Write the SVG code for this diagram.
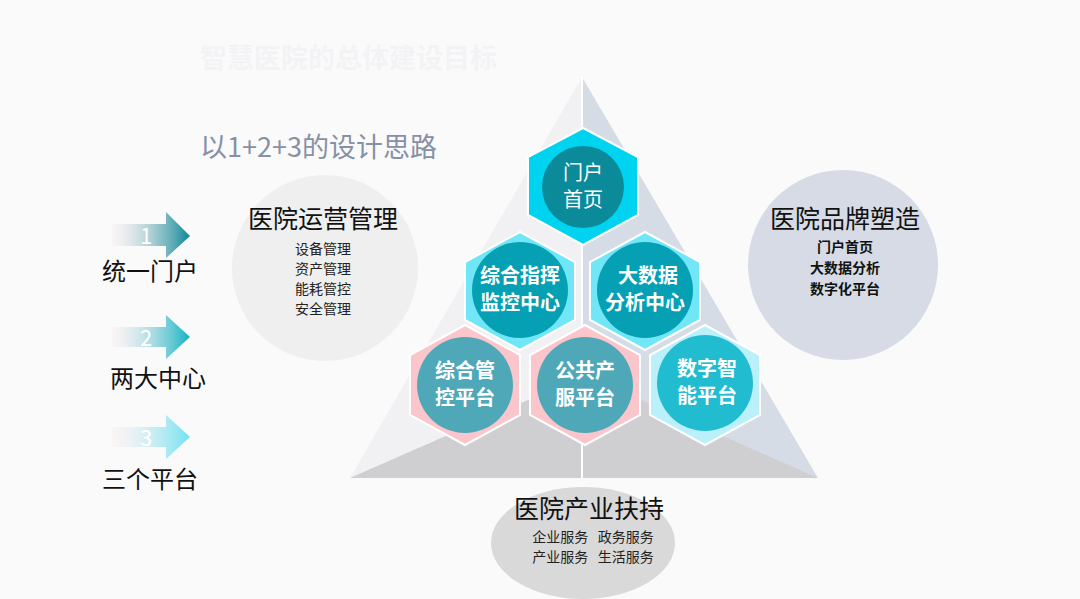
<svg xmlns="http://www.w3.org/2000/svg" width="1080" height="599" viewBox="0 0 1080 599">
<defs>
<linearGradient id="g1" x1="0" x2="1"><stop offset="0" stop-color="#fbe9ec" stop-opacity="0.3"/><stop offset="1" stop-color="#0b8796"/></linearGradient>
<linearGradient id="g2" x1="0" x2="1"><stop offset="0" stop-color="#fbe9ec" stop-opacity="0.3"/><stop offset="1" stop-color="#11b3c4"/></linearGradient>
<linearGradient id="g3" x1="0" x2="1"><stop offset="0" stop-color="#fbe9ec" stop-opacity="0.3"/><stop offset="1" stop-color="#6fe3f2"/></linearGradient>
<style>
text{font-family:"Noto Sans CJK SC","Liberation Sans",sans-serif}
.w{fill:#fff;font-size:20px;text-anchor:middle}
.b{fill:#111;font-size:24px}
.s{fill:#222;font-size:14px;text-anchor:middle}
.sb{fill:#111;font-size:14px;font-weight:bold;text-anchor:middle}
.hx{stroke:#fff;stroke-width:2}
</style>
</defs>
<rect width="1080" height="599" fill="#fafafa"/>
<text x="200" y="68" font-size="27" fill="#f3f3f6" font-weight="bold">智慧医院的总体建设目标</text>
<text x="200" y="157" font-size="27" fill="#8690a6">以1+2+3的设计思路</text>
<g id="pyramid">
<polygon points="582,77 350,478 582,478" fill="#f1f1f3"/>
<polygon points="582,77 818,478 582,478" fill="#d6dce6"/>
<polygon points="585,375 350,478 818,478" fill="#cfcfd1"/>
<line x1="582" y1="77" x2="582" y2="478" stroke="#fff" stroke-width="2"/>
</g>
<g id="left-circle"><circle cx="325" cy="268" r="93" fill="#efefef"/>
<text x="323" y="228" font-size="25" fill="#111" text-anchor="middle">医院运营管理</text>
<text x="323" y="254" class="s">设备管理</text><text x="323" y="274" class="s">资产管理</text><text x="323" y="294" class="s">能耗管控</text><text x="323" y="314" class="s">安全管理</text></g>
<g id="right-circle"><circle cx="843" cy="265" r="95" fill="#d6dbe5"/>
<text x="845" y="228" font-size="25" fill="#111" text-anchor="middle">医院品牌塑造</text>
<text x="845" y="252" class="sb">门户首页</text><text x="845" y="273" class="sb">大数据分析</text><text x="845" y="294" class="sb">数字化平台</text></g>
<g id="bottom-ellipse"><ellipse cx="583" cy="543" rx="92" ry="56" fill="#d9d9d9"/>
<text x="589" y="518" font-size="25" fill="#111" text-anchor="middle">医院产业扶持</text>
<text x="593" y="542" class="s" xml:space="preserve">企业服务   政务服务</text><text x="593" y="562" class="s" xml:space="preserve">产业服务   生活服务</text></g>
<g id="n1"><polygon class="hx" points="583,128 638,157 638,215 583,245 528,215 528,157" fill="#00d3ef"/><circle cx="583" cy="187" r="41" fill="#0b8a9a"/><text x="583" y="180" class="w" font-size="19">门户</text><text x="583" y="207" class="w" font-size="19">首页</text></g>
<g id="n2"><polygon class="hx" points="520,232 575,262 575,320 520,350 465,320 465,262" fill="#70e6f6"/><circle cx="520" cy="290" r="48" fill="#05a0b4"/><text x="520" y="283" class="w" font-weight="bold">综合指挥</text><text x="520" y="310" class="w" font-weight="bold">监控中心</text></g>
<g id="n3"><polygon class="hx" points="645,232 700,262 700,320 645,350 590,320 590,262" fill="#70e6f6"/><circle cx="645" cy="290" r="48" fill="#05a0b4"/><text x="648" y="283" class="w" font-weight="bold">大数据</text><text x="645" y="310" class="w" font-weight="bold">分析中心</text></g>
<g id="n4"><polygon class="hx" points="465,325 520,355 520,415 465,445 410,415 410,355" fill="#fac6cb"/><circle cx="465" cy="385" r="48" fill="#4fa8b8"/><text x="465" y="378" class="w" font-weight="bold">综合管</text><text x="465" y="405" class="w" font-weight="bold">控平台</text></g>
<g id="n5"><polygon class="hx" points="585,325 640,355 640,415 585,445 530,415 530,355" fill="#fac6cb"/><circle cx="585" cy="385" r="48" fill="#4fa8b8"/><text x="585" y="378" class="w" font-weight="bold">公共产</text><text x="585" y="405" class="w" font-weight="bold">服平台</text></g>
<g id="n6"><polygon class="hx" points="705,325 760,355 760,415 705,445 650,415 650,355" fill="#baf0fa"/><circle cx="705" cy="383" r="48" fill="#22bcd0"/><text x="707" y="376" class="w" font-weight="bold">数字智</text><text x="707" y="403" class="w" font-weight="bold">能平台</text></g>
<g id="steps">
<polygon points="112,224 166,224 166,212 190,236 166,258 166,246 112,246" fill="url(#g1)"/>
<text x="146" y="244" font-size="22" fill="#fff" text-anchor="middle">1</text>
<text x="102" y="280" class="b">统一门户</text>
<polygon points="112,327 166,327 166,315 190,337 166,359 166,347 112,347" fill="url(#g2)"/>
<text x="146" y="346" font-size="22" fill="#fff" text-anchor="middle">2</text>
<text x="110" y="387" class="b">两大中心</text>
<polygon points="112,427 166,427 166,415 190,437 166,459 166,447 112,447" fill="url(#g3)"/>
<text x="146" y="446" font-size="22" fill="#fff" text-anchor="middle">3</text>
<text x="102" y="488" class="b">三个平台</text>
</g>
</svg>
